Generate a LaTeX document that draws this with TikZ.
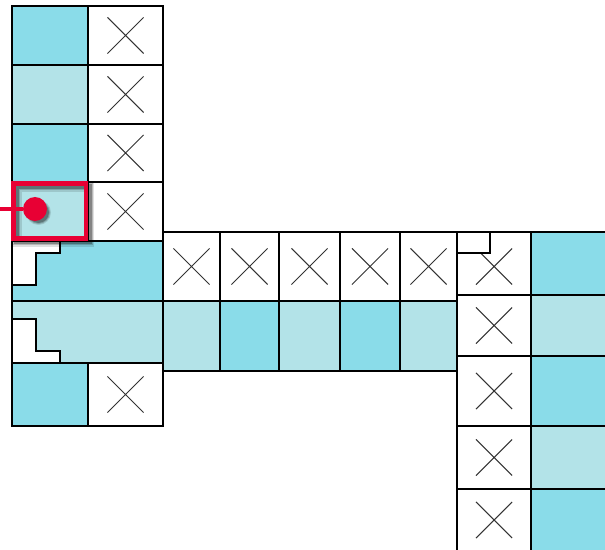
\documentclass[tikz,border=0pt]{standalone}
\usepackage{xcolor}
\usetikzlibrary{shapes.misc, positioning}

\tikzset{
  cellbox/.style={draw=black, line width=0.8pt},
  xmark/.style={cross out, draw=black!80, line width=0.6pt, minimum size=0.7cm, inner sep=0pt},
}

\begin{document}
\begin{tikzpicture}[x=0.02cm, y=-0.02cm]
  \definecolor{cyandark}{RGB}{138,220,233}
  \definecolor{cyanlight}{RGB}{179,227,232}
  \definecolor{markred}{RGB}{232,0,52}

  \useasboundingbox (0,0) rectangle (605,550);

  % left column
  \foreach \ya/\yb/\col [count=\i] in {6/65/cyandark, 65/124/cyanlight, 124/182/cyandark, 182/241/cyanlight, 363/426/cyandark} {
    \draw[cellbox, fill=\col] (12,\ya) rectangle (88,\yb);
    \draw[cellbox, fill=white] (88,\ya) rectangle (163,\yb);
    \node[xmark] (lx\i) at (125.5,{(\ya+\yb)/2}) {};
  }
  \draw[cellbox, fill=cyandark] (12,241) rectangle (163,301);
  \draw[cellbox, fill=white] (12,241) -- (60,241) -- (60,253) -- (36,253) -- (36,285) -- (12,285) -- cycle;
  \draw[cellbox, fill=cyanlight] (12,301) rectangle (163,363);
  \draw[cellbox, fill=white] (12,319) -- (36,319) -- (36,351) -- (60,351) -- (60,363) -- (12,363) -- cycle;

  % middle row
  \foreach \xa/\xb/\col [count=\i] in {163/220/cyanlight, 220/279/cyandark, 279/340/cyanlight, 340/400/cyandark, 400/457/cyanlight} {
    \draw[cellbox, fill=white] (\xa,232) rectangle (\xb,301);
    \draw[cellbox, fill=\col] (\xa,301) rectangle (\xb,371);
    \node[xmark] (mx\i) at ({(\xa+\xb)/2},266.5) {};
  }

  % right column
  \foreach \ya/\yb/\yc/\col [count=\i] in {232/295/266.5/cyandark, 295/356/325.5/cyanlight, 356/426/391/cyandark, 426/489/457.5/cyanlight, 489/553/520/cyandark} {
    \draw[cellbox, fill=white] (457,\ya) rectangle (531,\yb);
    \draw[cellbox, fill=\col] (531,\ya) rectangle (608,\yb);
    \node[xmark] (rx\i) at (494,\yc) {};
  }
  \draw[cellbox, fill=white] (457,232) rectangle (490,253);

  % highlight, soft shadows drawn in layers
  \foreach \w/\r/\o in {6pt/12.5/0.12, 4.5pt/11.5/0.18, 3pt/10.5/0.28} {
    \draw[black, line width=\w, opacity=\o] (16.5,186.5) rectangle (89,241.5);
    \fill[black, opacity=\o] (38.5,212.5) circle (\r);
  }
  \draw[draw=markred, line width=2.4pt] (13.5,183.5) rectangle (86,238.5);
  \coordinate (pinend) at (0,209);
  \node[circle, fill=markred, minimum size=0.48cm, inner sep=0pt] (pin) at (35,209) {};
  \draw[markred, line width=2.6pt] (pinend) -- (pin);
\end{tikzpicture}
\end{document}
